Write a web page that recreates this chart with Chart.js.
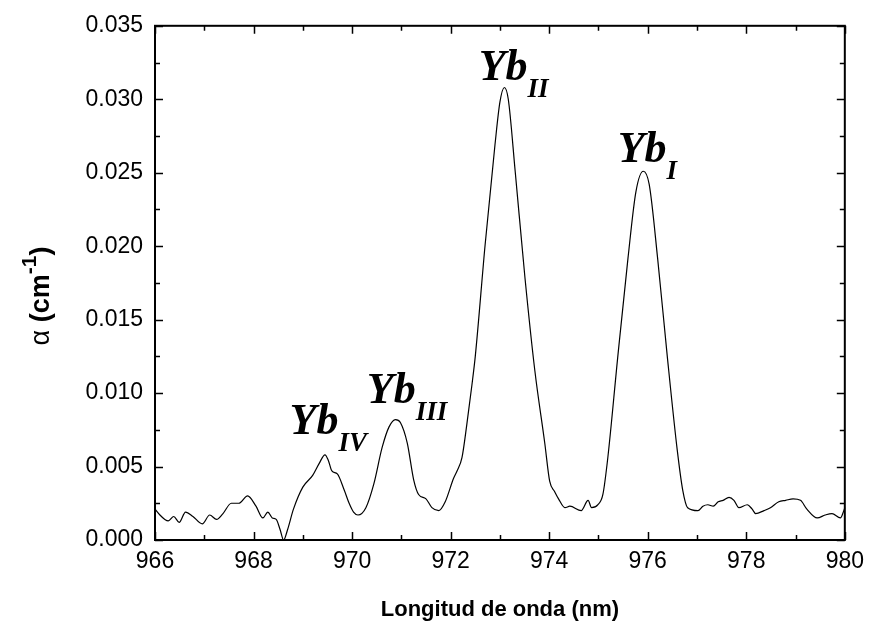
<!DOCTYPE html>
<html>
<head>
<meta charset="utf-8">
<script src="https://cdn.jsdelivr.net/npm/chart.js@4.4.0/dist/chart.umd.min.js"></script>
<style>
  html, body { margin: 0; padding: 0; background: #fff; }
  canvas { display: block; }
</style>
</head>
<body>
<canvas id="spectrum" width="872" height="624"></canvas>
<script>
// longitud de onda (nm) y absorción (cm-1)
const wavelength = [
  966.00, 966.10, 966.20, 966.27, 966.38, 966.49, 966.62, 966.77, 966.96, 967.11,
  967.25, 967.38, 967.55, 967.70, 967.88, 968.05, 968.19, 968.29, 968.38, 968.46,
  968.54, 968.61, 968.69, 968.81, 969.00, 969.20, 969.33, 969.45, 969.52, 969.59,
  969.70, 969.84, 969.94, 970.03, 970.12, 970.28, 970.44, 970.61, 970.75, 970.88,
  970.98, 971.12, 971.25, 971.35, 971.50, 971.62, 971.76, 971.89, 972.06, 972.13,
  972.23, 972.33, 972.43, 972.50, 972.70, 972.90, 973.00, 973.09, 973.17, 973.31,
  973.51, 973.71, 973.91, 974.01, 974.11, 974.19, 974.32, 974.42, 974.65, 974.79,
  974.86, 974.99, 975.09, 975.19, 975.39, 975.60, 975.76, 975.91, 976.03, 976.20,
  976.40, 976.60, 976.71, 976.81, 977.02, 977.12, 977.22, 977.33, 977.43, 977.53,
  977.65, 977.75, 977.85, 978.02, 978.12, 978.19, 978.36, 978.49, 978.66, 978.80,
  978.95, 979.10, 979.23, 979.44, 979.60, 979.74, 979.91, 979.98, 980.00
];
const alpha = [
  0.0021, 0.0017, 0.0014, 0.0013, 0.0016, 0.0012, 0.0019, 0.0016, 0.0011, 0.0017,
  0.0014, 0.0018, 0.0025, 0.0025, 0.0030, 0.0023, 0.0015, 0.0019, 0.0015, 0.0014,
  0.0007, 0.0000, 0.0007, 0.0021, 0.0036, 0.0044, 0.0052, 0.0058, 0.0054, 0.0047,
  0.0045, 0.0034, 0.0025, 0.0019, 0.0017, 0.0022, 0.0038, 0.0063, 0.0077, 0.0082,
  0.0080, 0.0066, 0.0041, 0.0031, 0.0028, 0.0022, 0.0020, 0.0026, 0.0042, 0.0047,
  0.0056, 0.0079, 0.0105, 0.0125, 0.0201, 0.0269, 0.0298, 0.0308, 0.0300, 0.0251,
  0.0178, 0.0115, 0.0066, 0.0040, 0.0033, 0.0028, 0.0022, 0.0023, 0.0020, 0.0027,
  0.0022, 0.0024, 0.0031, 0.0056, 0.0124, 0.0192, 0.0237, 0.0251, 0.0242, 0.0192,
  0.0124, 0.0061, 0.0034, 0.0022, 0.0020, 0.0023, 0.0024, 0.0023, 0.0026, 0.0027,
  0.0029, 0.0027, 0.0022, 0.0024, 0.0021, 0.0018, 0.0020, 0.0022, 0.0026, 0.0027,
  0.0028, 0.0027, 0.0021, 0.0015, 0.0017, 0.0018, 0.0015, 0.0020, 0.0022
];

// etiquetas de los picos: subíndice y punto de anclaje (nm, cm-1)
const peakNames = ['IV', 'III', 'II', 'I'];
const peakLabelX = [968.73, 970.30, 972.57, 975.39];
const peakLabelY = [0.0072, 0.0093, 0.0313, 0.0257];

const xTicks = [966, 968, 970, 972, 974, 976, 978, 980];

const points = wavelength.map((w, i) => ({ x: w, y: alpha[i] }));

// Marcas hacia dentro y marco completo (estilo Origin)
const framePlugin = {
  id: 'frame',
  afterDraw(chart) {
    const ctx = chart.ctx;
    const a = chart.chartArea;
    const xs = chart.scales.x;
    const ys = chart.scales.y;
    ctx.save();
    ctx.strokeStyle = '#000';
    ctx.lineWidth = 2;
    ctx.strokeRect(a.left, a.top, a.right - a.left, a.bottom - a.top);

    ctx.lineWidth = 1.5;
    ctx.beginPath();
    for (let v = 966; v <= 980; v += 1) {
      const px = Math.round(xs.getPixelForValue(v)) + 0.5;
      const len = v % 2 === 0 ? 8 : 5;
      ctx.moveTo(px, a.bottom); ctx.lineTo(px, a.bottom - len);
      ctx.moveTo(px, a.top); ctx.lineTo(px, a.top + len);
    }
    for (let k = 0; k <= 14; k++) {
      const v = k * 0.0025;
      const py = Math.round(ys.getPixelForValue(v)) + 0.5;
      const len = k % 2 === 0 ? 8 : 5;
      ctx.moveTo(a.left, py); ctx.lineTo(a.left + len, py);
      ctx.moveTo(a.right, py); ctx.lineTo(a.right - len, py);
    }
    ctx.stroke();

    // etiquetas Yb
    ctx.fillStyle = '#000';
    ctx.textBaseline = 'alphabetic';
    ctx.textAlign = 'left';
    peakNames.forEach((name, i) => {
      const px = xs.getPixelForValue(peakLabelX[i]);
      const py = ys.getPixelForValue(peakLabelY[i]);
      ctx.font = 'italic bold 44px "Liberation Serif", "Times New Roman", serif';
      ctx.fillText('Yb', px, py);
      const w = ctx.measureText('Yb').width;
      ctx.font = 'italic bold 27px "Liberation Serif", "Times New Roman", serif';
      ctx.fillText(name, px + w, py + 17);
    });

    // título eje x
    ctx.font = 'bold 22px "Liberation Sans", Arial, sans-serif';
    ctx.textAlign = 'center';
    ctx.textBaseline = 'middle';
    ctx.fillText('Longitud de onda (nm)', (a.left + a.right) / 2, 610);

    // título eje y: α (cm-1)
    ctx.save();
    ctx.translate(42, 296);
    ctx.rotate(-Math.PI / 2);
    ctx.textAlign = 'left';
    ctx.textBaseline = 'middle';
    const fA = '27px "Liberation Sans", Arial, sans-serif';
    const fB = 'bold 27px "Liberation Sans", Arial, sans-serif';
    const fS = 'bold 21px "Liberation Sans", Arial, sans-serif';
    const parts = [[fA, 'α ', 0], [fB, '(cm', 0], [fS, '-1', -12], [fB, ')', 0]];
    let total = 0;
    parts.forEach(p => { ctx.font = p[0]; total += ctx.measureText(p[1]).width; });
    let cx = -total / 2;
    parts.forEach(p => {
      ctx.font = p[0];
      ctx.fillText(p[1], cx, p[2]);
      cx += ctx.measureText(p[1]).width;
    });
    ctx.restore();
    ctx.restore();
  }
};

new Chart(document.getElementById('spectrum'), {
  type: 'line',
  data: {
    datasets: [{
      data: points,
      borderColor: '#000',
      borderWidth: 1.2,
      pointRadius: 0,
      fill: false,
      cubicInterpolationMode: 'monotone',
      clip: 4
    }]
  },
  options: {
    responsive: false,
    animation: false,
    layout: { padding: { top: 23, right: 24, left: 0, bottom: 0 } },
    plugins: { legend: { display: false }, tooltip: { enabled: false } },
    scales: {
      x: {
        type: 'linear',
        min: 966,
        max: 980,
        afterBuildTicks: scale => { scale.ticks = xTicks.map(v => ({ value: v })); },
        afterFit: scale => { scale.height = 84; },
        grid: { display: false, drawTicks: false },
        border: { display: false },
        ticks: {
          color: '#000',
          padding: 8,
          maxRotation: 0,
          font: { family: '"Liberation Sans", Arial, sans-serif', size: 23 }
        }
      },
      y: {
        min: 0,
        max: 0.035,
        afterFit: scale => { scale.width = 155; },
        grid: { display: false, drawTicks: false },
        border: { display: false },
        ticks: {
          stepSize: 0.005,
          color: '#000',
          padding: 12,
          callback: v => v.toFixed(3),
          font: { family: '"Liberation Sans", Arial, sans-serif', size: 23 }
        }
      }
    }
  },
  plugins: [framePlugin]
});
</script>
</body>
</html>
